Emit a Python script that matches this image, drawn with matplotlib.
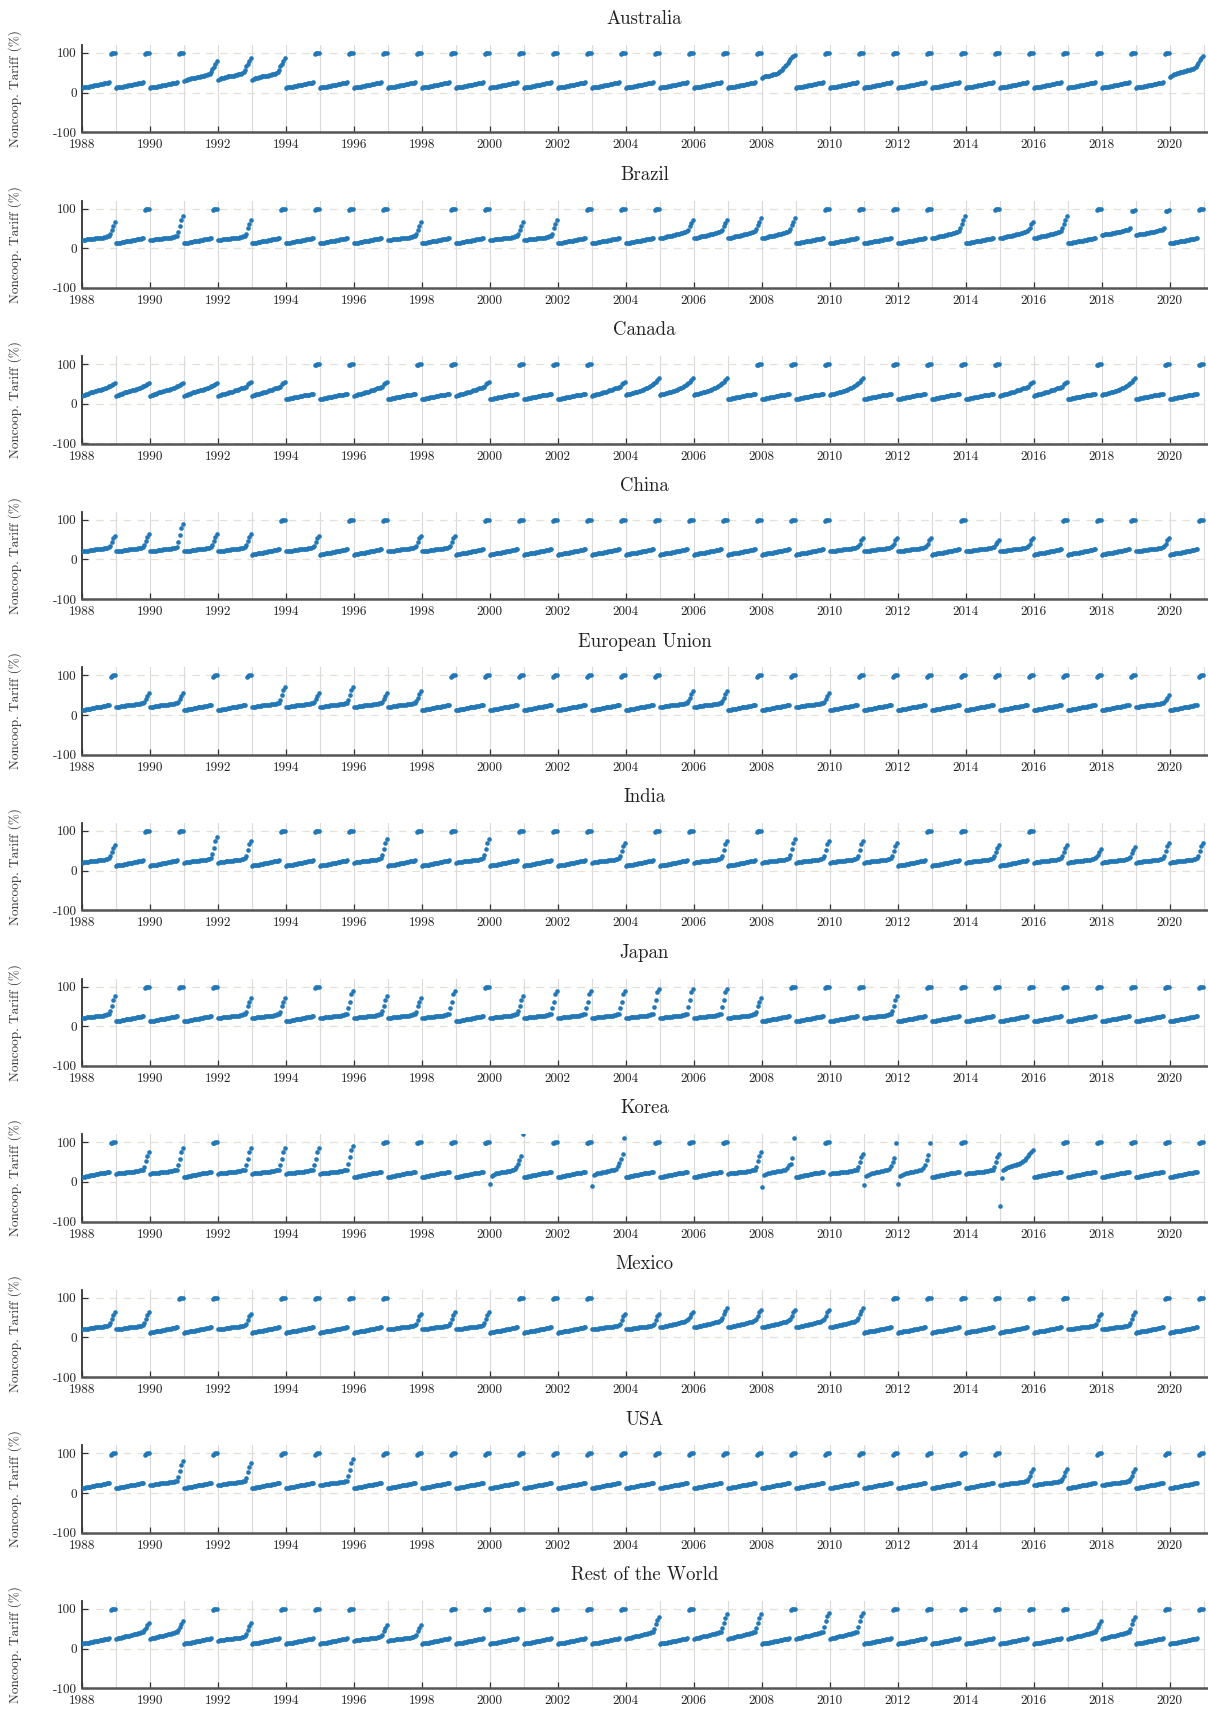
import matplotlib.pyplot as plt
import numpy as np
from matplotlib.ticker import FixedLocator

plt.rcParams['font.family'] = ['cmr10', 'DejaVu Serif']
plt.rcParams['axes.unicode_minus'] = False

# years on the x axis
YEARS = list(range(1988, 2021))

COUNTRIES = ['Australia', 'Brazil', 'Canada', 'China', 'European Union', 'India',
             'Japan', 'Korea', 'Mexico', 'USA', 'Rest of the World']

# sorted sector tariffs within one year (one shape per year)
T = [12, 13, 13, 14, 15, 15, 16, 17, 17, 18, 19, 19, 20, 21, 21, 22, 23, 23, 24, 25, 26, 97, 99, 100, 100]
RAMP = [20, 21, 21, 22, 22, 23, 23, 24, 24, 25, 25, 26, 26, 27, 27, 28, 29, 30, 31]
RAMP_H = [25, 26, 27, 28, 29, 30, 31, 31, 32, 33, 34, 35, 36, 37, 38, 39, 40, 41, 43]
R50 = RAMP + [32, 38, 44, 50]
R55 = RAMP + [34, 40, 48, 55]
R60 = RAMP + [35, 44, 53, 60]
R65 = RAMP + [36, 47, 57, 65]
R70 = RAMP + [37, 50, 62, 70]
R75 = RAMP + [38, 52, 66, 75]
R80 = RAMP + [40, 55, 70, 80]
R85 = RAMP + [42, 58, 75, 85]
R90 = RAMP + [45, 62, 80, 90]
R95 = RAMP + [48, 66, 85, 95]
H65 = RAMP_H + [46, 52, 60, 65]
H70 = RAMP_H + [47, 55, 63, 70]
H75 = RAMP_H + [48, 58, 67, 75]
H80 = RAMP_H + [50, 62, 72, 80]
H85 = RAMP_H + [52, 65, 77, 86]
H90 = RAMP_H + [55, 70, 82, 90]
C50 = [20, 22, 23, 25, 26, 28, 29, 30, 31, 32, 33, 34, 35, 36, 37, 38, 39, 41, 42, 44, 46, 48, 50, 52]
C55 = [20, 22, 23, 24, 25, 26, 27, 28, 29, 30, 31, 32, 34, 35, 36, 38, 39, 40, 41, 42, 43, 50, 52, 55]
C60 = [22, 24, 25, 26, 27, 28, 29, 30, 31, 32, 33, 35, 36, 38, 39, 41, 43, 45, 47, 50, 53, 56, 60, 64]
A80 = [30, 32, 33, 34, 35, 36, 37, 38, 38, 39, 40, 40, 41, 42, 43, 44, 45, 46, 48, 52, 60, 64, 72, 80]
A88 = [33, 35, 36, 37, 38, 39, 40, 41, 41, 42, 43, 43, 44, 45, 46, 47, 48, 50, 53, 58, 66, 72, 80, 88]
A95 = [38, 40, 41, 42, 42, 43, 44, 45, 46, 47, 48, 50, 52, 55, 58, 62, 66, 70, 75, 80, 85, 90, 93, 95]
A90 = [40, 42, 44, 46, 48, 49, 50, 51, 52, 53, 54, 55, 56, 57, 58, 59, 60, 62, 64, 70, 75, 82, 88, 92]
B95 = [33, 34, 35, 36, 36, 37, 37, 38, 38, 39, 40, 40, 41, 42, 43, 44, 45, 46, 47, 48, 50, 93, 95, 96]
K00 = [-5, 15, 18, 20, 21, 22, 23, 24, 25, 25, 26, 27, 27, 28, 29, 30, 32, 38, 45, 55, 65, 120]
K03 = [-10, 16, 19, 21, 22, 23, 24, 25, 26, 27, 28, 29, 30, 31, 33, 40, 48, 58, 70, 110]
K08 = [-12, 18, 20, 22, 23, 24, 25, 26, 27, 28, 28, 29, 30, 35, 42, 45, 60, 110]
K11 = [-8, 15, 18, 20, 22, 23, 24, 25, 26, 27, 28, 29, 30, 33, 40, 50, 60, 97]
K12 = [-5, 15, 18, 20, 22, 23, 24, 25, 26, 27, 28, 29, 30, 34, 42, 55, 68, 97]
K15 = [-60, 10, 30, 33, 35, 37, 38, 40, 41, 42, 43, 45, 46, 48, 50, 52, 55, 60, 65, 70, 75, 80]

SHAPES = {'T': T, 'R50': R50, 'R55': R55, 'R60': R60, 'R65': R65, 'R70': R70, 'R75': R75,
          'R80': R80, 'R85': R85, 'R90': R90, 'R95': R95,
          'H65': H65, 'H70': H70, 'H75': H75, 'H80': H80, 'H85': H85, 'H90': H90,
          'C50': C50, 'C55': C55, 'C60': C60,
          'A80': A80, 'A88': A88, 'A95': A95, 'A90': A90, 'B95': B95,
          'K00': K00, 'K03': K03, 'K08': K08, 'K11': K11, 'K12': K12, 'K15': K15}

# shape of each year, 1988..2020
AUSTRALIA = ['T', 'T', 'T', 'A80', 'A88', 'A88'] + ['T'] * 14 + ['A95'] + ['T'] * 11 + ['A90']
BRAZIL = ['R65', 'T', 'R80', 'T', 'R70', 'T', 'T', 'T', 'T', 'R65', 'T', 'T', 'R65', 'R70', 'T', 'T', 'T',
          'H70', 'H70', 'H75', 'H75', 'T', 'T', 'T', 'T', 'H80', 'T', 'H65', 'H80', 'T', 'B95', 'B95', 'T']
CANADA = ['C50', 'C50', 'C50', 'C50', 'C55', 'C55', 'T', 'T', 'C55', 'T', 'T', 'C55', 'T', 'T', 'T', 'C55',
          'C60', 'C60', 'C60', 'T', 'T', 'T', 'C60', 'T', 'T', 'T', 'T', 'C55', 'C55', 'T', 'C60', 'T', 'T']
CHINA = ['R60', 'R65', 'R90', 'R65', 'R65', 'T', 'R60', 'T', 'T', 'R60', 'R60', 'T'] + ['T'] * 10 + \
        ['R55', 'R55', 'R55', 'T', 'R50', 'R55', 'T', 'T', 'T', 'R55', 'T']
EU = ['T', 'R55', 'R55', 'T', 'T', 'R70', 'R55', 'R70', 'R55', 'R60', 'T'] + ['T'] * 6 + \
     ['R60', 'R60', 'T', 'T', 'R55'] + ['T'] * 9 + ['R50', 'T']
INDIA = ['R65', 'T', 'T', 'R85', 'R75', 'T', 'T', 'T', 'R80', 'T', 'T', 'R80', 'T', 'T', 'T', 'R70', 'T',
         'T', 'R75', 'T', 'R80', 'R75', 'R75', 'R70', 'T', 'T', 'R65', 'T', 'R65', 'R55', 'R60', 'R70', 'R70']
JAPAN = ['R75', 'T', 'T', 'T', 'R70', 'R70', 'T', 'R90', 'R75', 'R70', 'R90', 'T', 'R75', 'R90', 'R90',
         'R90', 'R95', 'R95', 'R95', 'R70', 'T', 'T', 'T', 'R75'] + ['T'] * 9
KOREA = ['T', 'R75', 'R85', 'T', 'R85', 'R85', 'R85', 'R90', 'T', 'T', 'T', 'T', 'K00', 'T', 'T', 'K03',
         'T', 'T', 'T', 'R75', 'K08', 'T', 'R70', 'K11', 'K12', 'T', 'R70', 'K15', 'T', 'T', 'T', 'T', 'T']
MEXICO = ['R65', 'R65', 'T', 'T', 'R60', 'T', 'T', 'T', 'T', 'R60', 'R65', 'R65', 'T', 'T', 'T', 'R60',
          'R60', 'H65', 'H75', 'H70', 'H70', 'H70', 'H75', 'T', 'T', 'T', 'T', 'T', 'T', 'R60', 'R65', 'T', 'T']
USA = ['T', 'T', 'R80', 'T', 'R75', 'T', 'T', 'R85'] + ['T'] * 19 + ['R60', 'R60', 'T', 'R60', 'T', 'T']
ROW = ['T', 'H65', 'H70', 'T', 'R65', 'T', 'T', 'T', 'R60', 'R60', 'T', 'T', 'T', 'T', 'T', 'T', 'H80',
       'T', 'H85', 'H85', 'T', 'H90', 'H90', 'T'] + ['T'] * 5 + ['H70', 'H80', 'T', 'T']

PANELS = [AUSTRALIA, BRAZIL, CANADA, CHINA, EU, INDIA, JAPAN, KOREA, MEXICO, USA, ROW]

W, H = 1208, 1712
fig = plt.figure(figsize=(W / 100, H / 100), dpi=100)

left = 81.7 / W
width = (1207 - 81.7) / W
ax_h = 87.3 / H
pitch = 155.6

for i, (name, codes) in enumerate(zip(COUNTRIES, PANELS)):
    top_px = 45 + pitch * i
    ax = fig.add_axes([left, 1 - (top_px + 87.3) / H, width, ax_h])

    xs, ys = [], []
    for year, code in zip(YEARS, codes):
        vals = SHAPES[code]
        n = len(vals)
        xs.extend(year + (np.arange(n) + 0.3) / n)
        ys.extend(vals)
    ax.scatter(xs, ys, s=11, color='#2277b6', linewidths=0, zorder=3)

    ax.set_xlim(1988, 2021.1)
    ax.set_ylim(-100, 120)
    ax.xaxis.set_major_locator(FixedLocator(list(range(1988, 2021, 2))))
    ax.xaxis.set_minor_locator(FixedLocator(list(range(1989, 2022, 2))))
    ax.set_yticks([-100, 0, 100])
    ax.set_yticklabels(['-100', '0', '100'])
    ax.grid(True, axis='x', which='both', color='#dadada', lw=0.8, zorder=0)
    ax.grid(True, axis='y', color='#e4e0d8', lw=0.9, ls=(0, (6, 5)), zorder=0)
    ax.tick_params(axis='both', which='major', direction='in', length=4, width=0.9,
                   color='#333333', labelsize=9.5, labelcolor='#222222')
    ax.tick_params(axis='x', which='minor', length=0)
    ax.tick_params(axis='x', pad=5)
    for s in ['top', 'right']:
        ax.spines[s].set_visible(False)
    ax.spines['left'].set_color('#333333')
    ax.spines['left'].set_linewidth(1.3)
    ax.spines['bottom'].set_color('#555555')
    ax.spines['bottom'].set_linewidth(1.8)

    ax.set_title(name, fontsize=13.5, pad=15, color='#222222')
    ax.set_ylabel('Noncoop. Tariff (%)', fontsize=9.5, color='#333333')
    ax.yaxis.set_label_coords(-0.053, 0.5)

fig.savefig('out.png', dpi=100)
